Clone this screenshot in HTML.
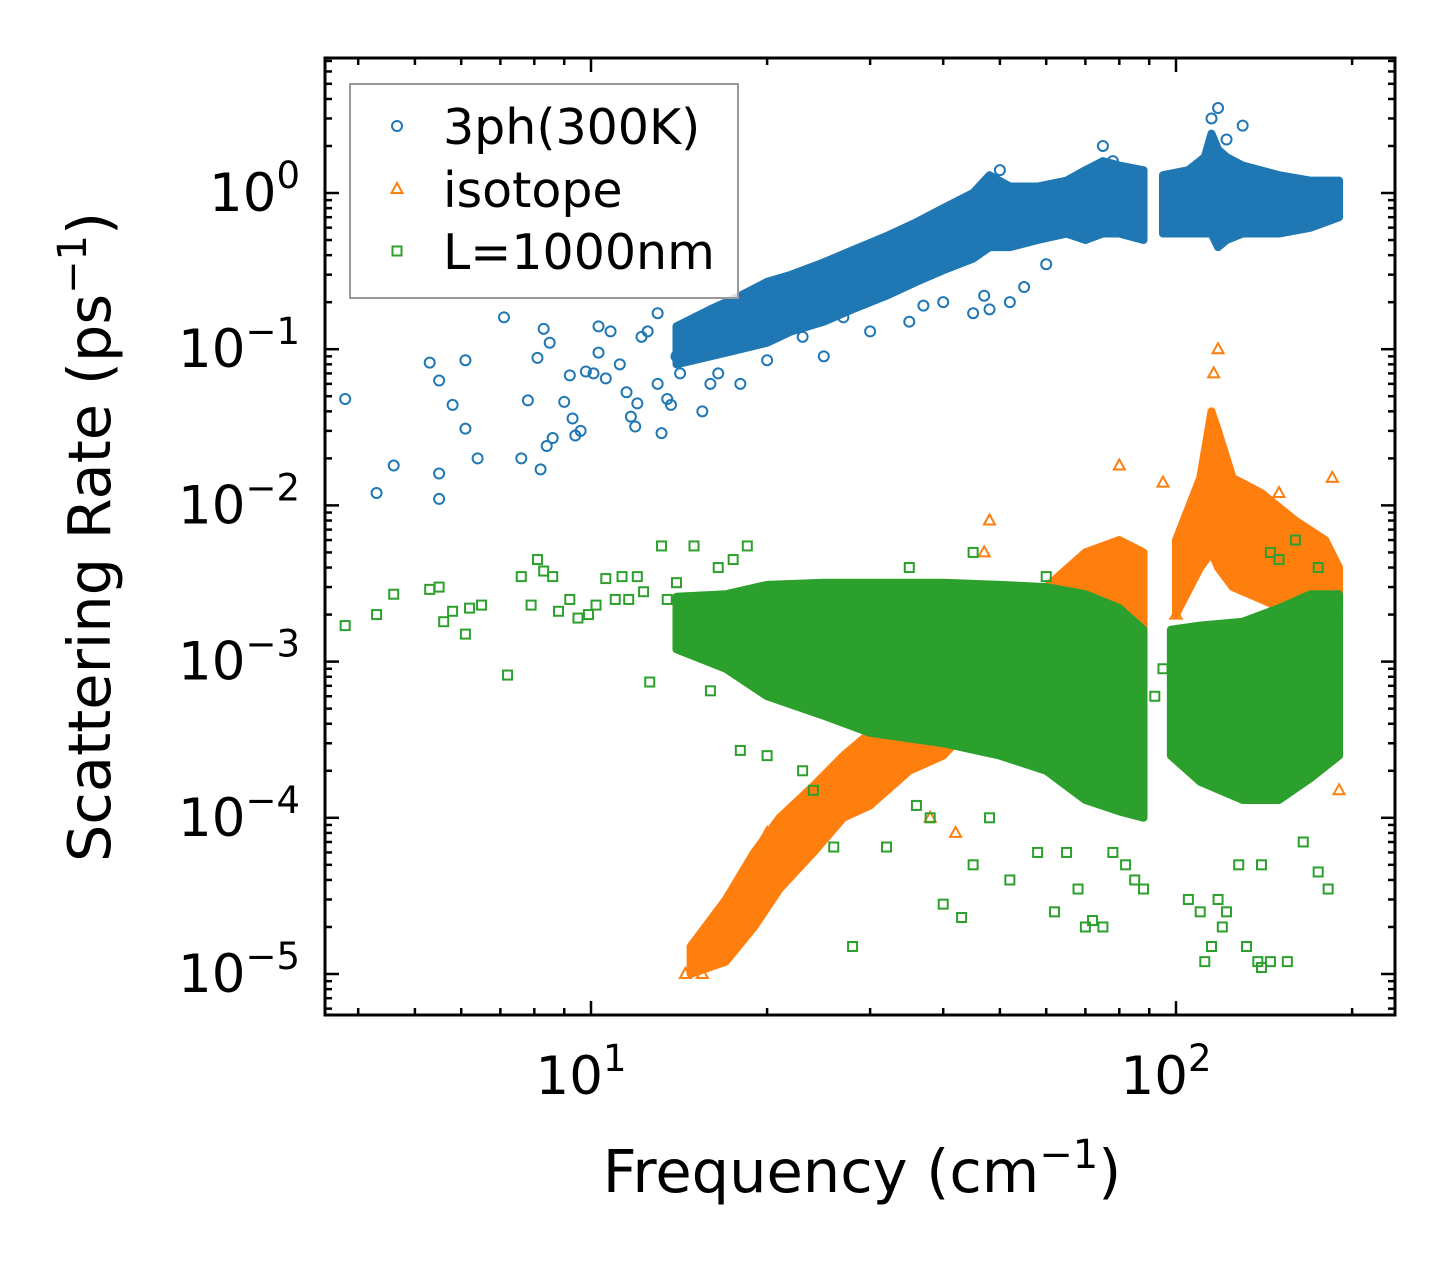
<!DOCTYPE html>
<html><head><meta charset="utf-8"><style>
html,body{margin:0;padding:0;background:#fff;}
svg{display:block;font-family:"DejaVu Sans","Liberation Sans",sans-serif;}
</style></head><body>
<svg id="chart" width="1455" height="1265" viewBox="0 0 1455 1265" xmlns="http://www.w3.org/2000/svg">
<rect x="0" y="0" width="1455" height="1265" fill="#fff"/>
<defs><clipPath id="pc"><rect x="325" y="58" width="1070" height="957"/></clipPath></defs>
<g id="marks" clip-path="url(#pc)"></g>
<g id="axes"></g>
<g id="legend"></g>
<text x="862" y="1192" font-size="59" text-anchor="middle">Frequency (cm<tspan font-size="40" dy="-24">−1</tspan><tspan dy="24">)</tspan></text>
<text transform="translate(110,537) rotate(-90)" font-size="59" text-anchor="middle">Scattering Rate (ps<tspan font-size="40" dy="-24">−1</tspan><tspan dy="24">)</tspan></text>
</svg>
<script>
// ---- data ----
const seriesNames = ["3ph(300K)", "isotope", "L=1000nm"];
const seriesColors = ["#1f77b4", "#ff7f0e", "#2ca02c"];
// dense bands: frequency (cm^-1), lower and upper scattering rate (ps^-1); null breaks a band
const blueBandFreq = [14,16,18,20,22,25,28,32,36,40,45,48,52,58,65,70,75,80,88,null,95,105,112,115,118,122,130,150,170,190];
const blueBandLo   = [0.08,0.09,0.10,0.11,0.13,0.15,0.18,0.22,0.27,0.32,0.38,0.45,0.45,0.5,0.55,0.5,0.55,0.55,0.5,null,0.55,0.55,0.55,0.55,0.45,0.5,0.55,0.55,0.6,0.7];
const blueBandHi   = [0.14,0.18,0.22,0.27,0.3,0.36,0.43,0.53,0.65,0.8,1.0,1.3,1.1,1.1,1.2,1.4,1.6,1.5,1.4,null,1.3,1.4,1.7,2.4,1.9,1.7,1.5,1.3,1.2,1.2];
const orangeBandFreq = [14.8,17,19,21,24,27,30,35,40,45,50,60,70,80,88,null,100,110,115,118,125,140,160,180,190];
const orangeBandLo   = [1e-5,1.2e-5,2e-5,3.5e-5,6e-5,1e-4,1.2e-4,2e-4,2.5e-4,4e-4,6e-4,8e-4,1.5e-3,2e-3,1.5e-3,null,2e-3,4e-3,5e-3,4e-3,3e-3,2.5e-3,2e-3,2e-3,2e-3];
const orangeBandHi   = [1.5e-5,3e-5,6e-5,1e-4,1.6e-4,2.5e-4,3.5e-4,5e-4,8e-4,1.5e-3,2.5e-3,3e-3,5e-3,6e-3,5e-3,null,6e-3,1.5e-2,4e-2,3e-2,1.5e-2,1.2e-2,8e-3,6e-3,4e-3];
const greenBandFreq = [14,17,20,25,30,40,50,60,70,80,88,null,98,110,130,150,170,190];
const greenBandLo   = [1.2e-3,9e-4,6e-4,4.5e-4,3.5e-4,3e-4,2.5e-4,2e-4,1.3e-4,1.1e-4,1e-4,null,2.5e-4,1.7e-4,1.3e-4,1.3e-4,1.8e-4,2.5e-4];
const greenBandHi   = [2.6e-3,2.7e-3,3.1e-3,3.2e-3,3.2e-3,3.2e-3,3.1e-3,3e-3,2.7e-3,2.2e-3,1.6e-3,null,1.6e-3,1.7e-3,1.8e-3,2.2e-3,2.7e-3,2.7e-3];
// individual points
const bluePtsFreq = [3.8,4.3,4.6,5.3,5.5,5.5,5.5,5.8,6.1,6.1,6.4,7.1,7.6,7.8,8.1,8.3,8.2,8.4,8.6,8.5,9.0,9.2,9.3,9.4,9.6,9.8,10.1,10.3,10.3,10.6,10.8,11.2,11.5,11.7,11.9,12.0,12.2,12.5,13.0,13.2,13.5,13.7,14,14.5,15.5,16,16.5,18,20,23,25,27,30,35,37,40,45,47,48,52,55,60,75,78,50,130,118,115,122,13,14.2,15,17,19,21];
const bluePtsRate = [0.048,0.012,0.018,0.082,0.063,0.016,0.011,0.044,0.085,0.031,0.020,0.16,0.020,0.047,0.088,0.135,0.017,0.024,0.027,0.11,0.046,0.068,0.036,0.028,0.030,0.072,0.07,0.14,0.095,0.065,0.13,0.08,0.053,0.037,0.032,0.045,0.12,0.13,0.06,0.029,0.048,0.044,0.09,0.12,0.04,0.06,0.07,0.06,0.085,0.12,0.09,0.16,0.13,0.15,0.19,0.2,0.17,0.22,0.18,0.2,0.25,0.35,2.0,1.6,1.4,2.7,3.5,3.0,2.2,0.17,0.07,0.1,0.15,0.19,0.22];
const orangePtsFreq = [38,42,70,100,105,190,188,185,150,80,48,47,95,118,116,14.5,15.5,16.5,18,20,23,26];
const orangePtsRate = [1e-4,8e-5,4e-4,2e-3,6e-4,1.5e-4,2.8e-4,1.5e-2,1.2e-2,1.8e-2,8e-3,5e-3,1.4e-2,0.1,0.07,1e-5,1e-5,1.2e-5,2.2e-5,8e-5,1.2e-4,1.6e-4];
const greenPtsFreq = [3.8,4.3,4.6,5.3,5.5,5.6,5.8,6.1,6.2,6.5,7.2,7.6,7.9,8.1,8.3,8.6,8.8,9.2,9.5,9.9,10.2,10.6,11,11.3,11.6,12,12.3,12.6,13.2,13.5,14,15,16,16.5,17.5,18.5,18,20,23,24,26,28,32,36,38,40,43,45,48,52,58,62,65,68,70,72,75,78,82,85,88,105,110,112,115,118,122,128,132,138,140,145,155,165,175,182,140,120,35,45,60,145,150,160,175,92,95];
const greenPtsRate = [1.7e-3,2e-3,2.7e-3,2.9e-3,3e-3,1.8e-3,2.1e-3,1.5e-3,2.2e-3,2.3e-3,8.2e-4,3.5e-3,2.3e-3,4.5e-3,3.8e-3,3.5e-3,2.1e-3,2.5e-3,1.9e-3,2e-3,2.3e-3,3.4e-3,2.5e-3,3.5e-3,2.5e-3,3.5e-3,2.8e-3,7.4e-4,5.5e-3,2.5e-3,3.2e-3,5.5e-3,6.5e-4,4e-3,4.5e-3,5.5e-3,2.7e-4,2.5e-4,2e-4,1.5e-4,6.5e-5,1.5e-5,6.5e-5,1.2e-4,1e-4,2.8e-5,2.3e-5,5e-5,1e-4,4e-5,6e-5,2.5e-5,6e-5,3.5e-5,2e-5,2.2e-5,2e-5,6e-5,5e-5,4e-5,3.5e-5,3e-5,2.5e-5,1.2e-5,1.5e-5,3e-5,2.5e-5,5e-5,1.5e-5,1.2e-5,1.1e-5,1.2e-5,1.2e-5,7e-5,4.5e-5,3.5e-5,5e-5,2e-5,4e-3,5e-3,3.5e-3,5e-3,4.5e-3,6e-3,4e-3,6e-4,9e-4];
// axes ticks
const xMajorTicks = [10, 100];
const xTickLabels = ["10", "10"];
const xTickExps = ["1", "2"];
const yMajorTicks = [1, 0.1, 0.01, 0.001, 0.0001, 0.00001];
const yTickExps = ["0", "−1", "−2", "−3", "−4", "−5"];

// ---- scales ----
const X0 = 325, X1 = 1395, Y0 = 58, Y1 = 1015;
function X(f){ return 591 + 585*(Math.log10(f) - 1); }
function Y(r){ return 193 - 156.2*Math.log10(r); }
const NS = "http://www.w3.org/2000/svg";
function mk(tag, attrs, parent){ const e = document.createElementNS(NS, tag); for (const k in attrs) e.setAttribute(k, attrs[k]); parent.appendChild(e); return e; }
const marks = document.getElementById('marks');
const axes = document.getElementById('axes');
const legend = document.getElementById('legend');

function drawBand(F, LO, HI, color, name){
  let segs = [[]];
  F.forEach((f,i)=>{ if (f === null) segs.push([]); else segs[segs.length-1].push(i); });
  segs.forEach(seg=>{
    if (seg.length < 2) return;
    const top = seg.map(i=>X(F[i])+','+Y(HI[i]));
    const bot = seg.slice().reverse().map(i=>X(F[i])+','+Y(LO[i]));
    const p = mk('polygon', {points: top.concat(bot).join(' '), fill: color, stroke: color, 'stroke-width': '8', 'stroke-linejoin': 'round'}, marks);
    
    
  });
}
function marker(kind, x, y, color, parent){
  let e;
  if (kind === 0) e = mk('circle', {cx:x, cy:y, r:5, fill:'none', stroke:color, 'stroke-width':2}, parent);
  else if (kind === 1) e = mk('polygon', {points:`${x},${y-6} ${x-5.5},${y+4} ${x+5.5},${y+4}`, fill:'none', stroke:color, 'stroke-width':2}, parent);
  else e = mk('rect', {x:x-4.5, y:y-4.5, width:9, height:9, fill:'none', stroke:color, 'stroke-width':2}, parent);
  return e;
}
function drawPts(F, R, kind, color, name){
  F.forEach((f,i)=>{
    const e = marker(kind, X(f), Y(R[i]), color, marks);
    
    
  });
}
drawBand(blueBandFreq, blueBandLo, blueBandHi, seriesColors[0], 'phonon-3ph-band');
drawPts(bluePtsFreq, bluePtsRate, 0, seriesColors[0], 'phonon-3ph-point');
drawBand(orangeBandFreq, orangeBandLo, orangeBandHi, seriesColors[1], 'isotope-band');
drawPts(orangePtsFreq, orangePtsRate, 1, seriesColors[1], 'isotope-point');
drawBand(greenBandFreq, greenBandLo, greenBandHi, seriesColors[2], 'boundary-band');
drawPts(greenPtsFreq, greenPtsRate, 2, seriesColors[2], 'boundary-point');

// ---- axes ----
const frame = mk('rect', {x:X0, y:Y0, width:X1-X0, height:Y1-Y0, fill:'none', stroke:'#000', 'stroke-width':3}, axes);


function tickLine(x1,y1,x2,y2){ mk('line', {x1,y1,x2,y2,stroke:'#000','stroke-width':2.5}, axes); }
for (let d = 0; d <= 3; d++) {
  for (let m = 1; m <= 9; m++) {
    const f = m*Math.pow(10, d);
    const x = X(f);
    if (x < X0 + 1 || x > X1 - 1) continue;
    const L = m === 1 ? 14 : 7;
    tickLine(x, Y1, x, Y1 - L); tickLine(x, Y0, x, Y0 + L);
  }
}
for (let d = -6; d <= 1; d++) {
  for (let m = 1; m <= 9; m++) {
    const r = m*Math.pow(10, d);
    const y = Y(r);
    if (y < Y0 + 1 || y > Y1 - 1) continue;
    const L = m === 1 ? 14 : 7;
    tickLine(X0, y, X0 + L, y); tickLine(X1, y, X1 - L, y);
  }
}
xMajorTicks.forEach((f,i)=>{
  const t = mk('text', {x:X(f)-10, y:1094, 'font-size':53, 'text-anchor':'middle'}, axes);
  t.innerHTML = xTickLabels[i] + `<tspan font-size="37" dy="-23">${xTickExps[i]}</tspan>`;
  
  
});
yMajorTicks.forEach((r,i)=>{
  const t = mk('text', {x:300, y:Y(r)+18, 'font-size':53, 'text-anchor':'end'}, axes);
  t.innerHTML = `10<tspan font-size="37" dy="-23">${yTickExps[i]}</tspan>`;
  
  
});

// ---- legend ----
const lb = mk('rect', {x:350, y:84, width:388, height:214, fill:'#fff', 'fill-opacity':0.8, stroke:'#999', 'stroke-width':2}, legend);


const rowsY = [126, 189, 251];
seriesNames.forEach((n,i)=>{
  const m = marker(i, 397, rowsY[i], seriesColors[i], legend);
  
  
  const t = mk('text', {x:443, y:rowsY[i]+18, 'font-size':49}, legend);
  t.textContent = n;
  
  
});
</script>
</body></html>
